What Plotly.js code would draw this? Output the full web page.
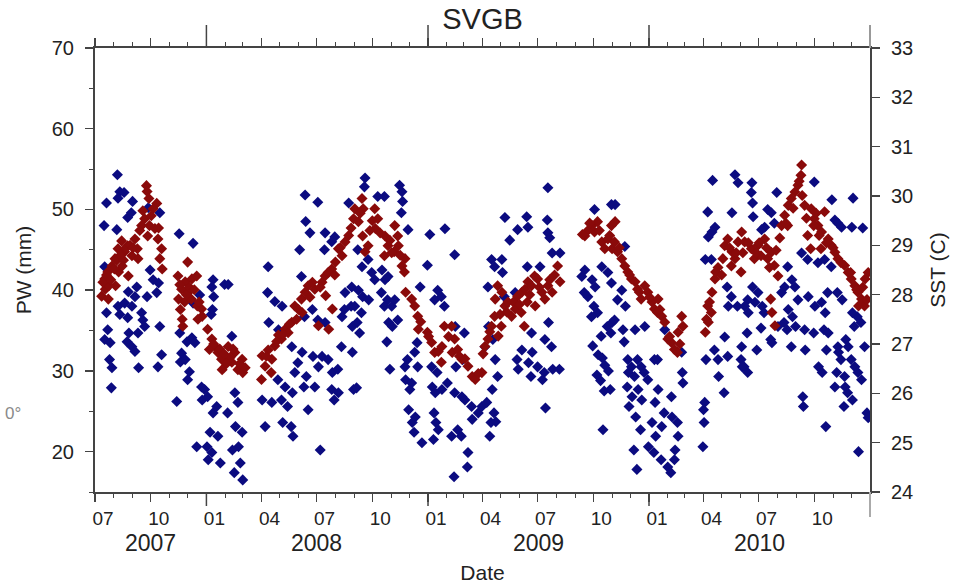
<!DOCTYPE html>
<html><head><meta charset="utf-8">
<script src="https://cdn.plot.ly/plotly-3.0.1.min.js"></script>
<style>html,body{margin:0;padding:0;background:#fff}#chart{width:961px;height:584px}</style>
</head><body><div id="chart"></div>
<script>
// PW (mm), left axis, blue diamonds
const pwDates = [
'2007-08-07','2007-08-11','2007-08-08','2007-08-18','2007-07-20','2007-09-01','2007-07-16','2007-08-06','2007-08-24','2007-08-30',
'2007-10-16','2007-09-27','2007-11-17','2007-12-10','2007-07-17','2007-07-20','2007-07-22','2007-07-17','2007-07-26','2007-07-25',
'2007-07-29','2007-07-28','2007-08-08','2007-08-19','2007-08-31','2007-08-11','2007-08-24','2007-09-08','2007-08-25','2007-09-05',
'2007-09-16','2007-09-18','2007-09-21','2007-09-10','2007-08-26','2007-08-23','2007-08-31','2007-09-05','2007-09-11','2007-10-13',
'2007-10-19','2007-09-30','2007-10-05','2007-10-14','2007-10-11','2007-09-25','2007-10-16','2007-11-13','2007-11-18','2007-11-30',
'2007-11-21','2007-11-19','2007-11-27','2007-12-01','2007-12-04','2007-12-08','2007-12-13','2007-12-10','2007-12-21','2008-01-12',
'2008-01-10','2008-01-13','2008-01-11','2008-01-09','2008-01-31','2007-12-24','2007-12-29','2007-12-25','2008-01-03','2008-01-12',
'2008-01-18','2008-01-07','2008-01-20','2007-12-16','2008-01-02','2008-01-04','2008-01-24','2008-01-10','2008-06-12','2008-07-03',
'2008-08-23','2008-06-13','2008-06-20','2008-07-15','2008-07-31','2008-07-26','2008-06-03','2008-07-14','2008-04-12','2008-02-06',
'2008-06-06','2008-04-11','2008-04-23','2008-05-05','2008-04-13','2008-04-29','2008-06-24','2008-06-11','2008-07-03','2008-07-15',
'2008-08-17','2008-08-28','2008-08-16','2008-08-12','2008-08-29','2008-02-12','2008-05-21','2008-06-07','2008-05-31','2008-05-26',
'2008-06-14','2008-06-25','2008-07-10','2008-07-20','2008-07-04','2008-07-27','2008-08-05','2008-08-11','2008-04-28','2008-05-10',
'2008-05-22','2008-05-04','2008-05-14','2008-04-18','2008-04-02','2008-06-10','2008-06-28','2008-06-17','2008-07-26','2008-08-06',
'2008-07-30','2008-05-20','2008-04-07','2008-05-06','2008-05-23','2008-07-07','2008-02-17','2008-02-22','2008-02-05','2008-02-18',
'2008-02-29','2008-02-23','2008-02-13','2008-02-26','2008-02-16','2008-03-01','2008-08-31','2008-08-29','2008-08-27','2008-09-19',
'2008-09-18','2008-11-15','2008-11-19','2008-11-20','2008-10-10','2008-10-21','2008-11-29','2009-01-04','2009-01-29','2009-02-14',
'2008-12-31','2008-11-18','2008-09-07','2008-09-24','2008-09-14','2008-09-30','2008-10-17','2008-10-22','2008-10-27','2008-10-05',
'2008-09-08','2008-09-15','2008-09-25','2008-09-02','2008-10-16','2008-10-26','2008-10-21','2008-11-02','2008-11-07','2008-09-13',
'2008-09-06','2008-09-10','2008-10-28','2008-11-03','2008-11-12','2008-10-25','2008-10-30','2008-09-05','2008-12-19','2009-01-17',
'2009-01-23','2009-01-12','2009-01-28','2008-12-14','2008-12-10','2008-11-28','2008-11-24','2008-12-15','2008-11-25','2008-12-05',
'2008-12-02','2009-01-07','2009-01-16','2009-01-08','2009-01-13','2009-01-24','2009-02-02','2009-02-14','2009-02-26','2008-11-30',
'2008-12-11','2008-12-06','2009-01-11','2009-01-14','2009-01-18','2008-12-09','2008-12-22','2009-01-10','2009-02-09','2009-02-25',
'2009-03-08','2009-03-07','2009-02-13','2009-02-19','2009-03-15','2009-03-25','2009-03-31','2009-03-14','2009-03-03','2009-02-15',
'2009-03-02','2009-02-27','2009-02-16','2009-07-18','2009-05-08','2009-06-13','2009-06-15','2009-05-29','2009-05-16','2009-07-17',
'2009-07-18','2009-07-21','2009-04-16','2009-05-03','2009-04-21','2009-05-04','2009-06-14','2009-07-05','2009-07-25','2009-08-07',
'2009-04-10','2009-05-07','2009-05-25','2009-07-19','2009-06-21','2009-07-13','2009-07-24','2009-06-05','2009-06-22','2009-05-28',
'2009-06-16','2009-07-01','2009-07-12','2009-07-26','2009-08-06','2009-05-30','2009-06-20','2009-07-09','2009-07-14','2009-04-22',
'2009-04-26','2009-04-17','2009-04-08','2009-04-20','2009-04-15','2009-04-23','2009-04-13','2009-04-11','2009-04-18','2009-04-05',
'2009-10-03','2009-10-31','2009-09-17','2009-09-12','2009-09-29','2009-09-16','2009-09-22','2009-10-04','2009-10-15','2009-10-25',
'2009-10-31','2009-10-02','2009-09-28','2009-10-08','2009-10-14','2009-10-24','2009-10-30','2009-11-01','2009-09-30','2009-10-09',
'2009-10-16','2009-10-20','2009-10-26','2009-10-07','2009-10-13','2009-10-19','2009-10-17','2009-10-29','2009-11-06','2009-11-22',
'2009-11-17','2009-11-10','2009-11-23','2009-11-05','2009-11-19','2009-11-21','2009-12-09','2009-12-25','2009-11-27','2009-12-03',
'2009-12-13','2009-12-19','2009-11-28','2009-12-08','2009-12-24','2009-12-30','2010-01-10','2010-01-15','2009-11-26','2009-12-14',
'2009-12-04','2009-12-20','2010-01-16','2010-01-11','2010-02-07','2010-01-27','2010-02-24','2009-11-29','2009-12-10','2009-12-18',
'2010-01-06','2010-01-12','2010-01-22','2010-01-26','2010-02-08','2010-02-17','2010-02-18','2009-12-31','2010-01-09','2010-01-21',
'2010-02-01','2010-02-12','2010-02-13','2009-12-07','2009-12-12','2010-02-25','2010-02-26','2010-02-06','2010-04-16','2010-04-08',
'2010-04-20','2010-04-15','2010-04-09','2010-05-18','2010-05-23','2010-05-28','2010-04-04','2010-04-14','2010-05-06','2010-04-19',
'2010-04-25','2010-04-26','2010-05-05','2010-05-11','2010-04-05','2010-04-03','2010-04-01','2010-04-02','2010-03-31','2010-05-10',
'2010-05-17','2010-05-12','2010-05-27','2010-06-03','2010-06-02','2010-06-04','2010-06-20','2010-06-19','2010-06-21','2010-06-22',
'2010-07-31','2010-10-01','2010-10-30','2010-12-04','2010-07-16','2010-07-22','2010-07-27','2010-07-11','2010-07-06','2010-12-02',
'2010-12-20','2010-11-04','2010-11-09','2010-11-15','2010-09-10','2010-09-20','2010-10-07','2010-10-18','2010-10-29','2010-08-18',
'2010-08-25','2010-08-13','2010-08-08','2010-08-30','2010-09-04','2010-09-21','2010-10-02','2010-10-13','2010-10-19','2010-10-23',
'2010-11-08','2010-11-16','2010-06-21','2010-06-30','2010-06-13','2010-06-25','2010-07-07','2010-07-10','2010-06-14','2010-06-08',
'2010-08-19','2010-08-26','2010-08-31','2010-08-17','2010-08-02','2010-08-12','2010-09-15','2010-09-30','2010-10-17','2010-10-24',
'2010-06-12','2010-07-05','2010-07-21','2010-07-23','2010-08-24','2010-09-16','2010-06-28','2010-10-21','2010-10-08','2010-10-14',
'2010-11-10','2010-11-14','2010-11-07','2010-11-04','2010-11-20','2010-12-01','2010-12-07','2010-12-12','2010-12-18','2010-11-21',
'2010-11-25','2010-12-03','2010-11-19','2010-06-07','2010-06-13','2010-11-22','2010-11-09','2010-11-26','2010-12-06','2010-12-23',
'2010-12-17','2010-12-11','2010-12-03','2010-09-12','2010-09-13','2010-10-20','2010-12-13','2010-12-27','2010-12-29'
];
const pwValues = [
54.3,52.2,51.4,52.1,50.8,51.0,48.0,47.5,49.0,49.6,
49.6,50.2,47.0,45.8,42.9,37.2,35.1,33.9,33.5,31.4,
30.4,27.9,38.0,38.4,38.0,37.0,36.6,40.4,39.8,39.2,
37.2,36.3,35.5,34.7,34.7,33.6,33.0,32.4,30.4,30.5,
32.0,42.5,41.3,40.9,39.7,39.2,35.5,26.2,34.7,33.6,
32.2,31.1,31.4,28.9,29.9,34.1,33.5,38.4,39.4,41.3,
40.4,39.2,37.6,37.0,40.7,28.0,27.7,26.4,26.8,24.8,
25.6,22.4,21.9,20.6,20.6,19.0,18.6,19.9,51.8,50.9,
50.8,48.5,47.1,47.1,46.6,46.0,45.0,45.0,42.9,40.7,
41.7,39.7,38.6,38.0,36.0,35.1,37.6,36.7,36.3,36.0,
39.7,40.4,37.6,36.7,35.5,34.3,33.0,32.3,31.0,29.8,
29.3,31.8,31.8,31.4,30.5,29.8,30.2,33.0,28.9,28.0,
27.3,26.4,25.6,26.1,26.4,28.0,28.0,25.2,27.7,27.3,
26.4,23.1,23.1,23.6,21.9,20.2,27.3,26.1,24.8,23.1,
22.4,20.6,20.2,18.6,17.4,16.5,27.7,32.3,38.0,53.9,
52.8,53.0,52.2,51.0,51.6,51.6,47.5,46.9,47.6,44.4,
43.1,49.6,45.0,43.8,42.9,42.2,42.5,41.3,41.7,41.3,
40.0,39.2,38.8,38.0,39.7,38.8,38.0,38.0,38.8,37.2,
36.0,34.7,36.0,35.5,36.3,33.6,30.2,27.9,40.4,40.0,
39.2,38.8,38.0,33.5,32.3,31.4,30.5,30.5,28.9,28.5,
27.7,30.5,29.8,28.0,27.3,27.7,28.5,27.3,26.8,25.2,
24.3,23.6,24.8,23.6,22.7,22.4,21.1,21.5,21.9,21.9,
19.9,18.1,16.9,22.7,24.0,24.8,25.6,25.6,26.4,35.5,
34.7,31.4,30.5,52.7,49.0,49.1,47.8,47.5,46.2,48.7,
47.1,46.5,43.8,43.8,42.9,42.2,42.9,42.9,44.6,44.6,
40.4,39.2,39.7,36.0,34.7,33.9,33.0,32.6,32.3,31.4,
31.0,30.5,29.8,30.2,30.2,30.2,29.3,28.9,25.4,31.4,
29.3,27.7,26.1,24.8,23.6,23.7,21.9,35.5,33.9,33.0,
50.0,50.6,42.5,41.7,41.3,39.7,39.2,40.4,42.9,42.2,
40.9,38.0,36.7,37.2,34.3,35.5,34.7,36.0,33.1,32.0,
31.6,30.7,30.0,29.5,28.8,27.5,22.7,27.7,50.6,45.4,
40.0,38.8,38.0,36.3,35.1,33.6,35.1,35.5,31.4,30.5,
31.4,30.5,29.8,29.3,29.8,28.9,31.4,31.4,28.0,27.7,
26.8,26.4,27.7,26.1,26.8,35.1,32.3,25.6,24.3,22.7,
23.6,21.9,23.1,24.8,24.3,23.6,21.9,20.6,19.9,19.0,
18.1,19.0,20.2,20.2,17.8,29.8,28.5,17.4,53.6,49.7,
47.8,47.2,46.6,49.6,54.3,53.3,43.8,43.8,34.2,32.6,
31.4,29.3,27.3,31.8,31.4,26.1,25.2,23.6,20.6,40.4,
39.2,38.0,38.0,33.0,31.4,30.5,53.3,52.1,50.8,49.1,
52.1,53.4,51.2,51.4,50.0,49.6,48.3,47.8,47.5,47.8,
47.7,48.7,48.3,47.8,44.6,43.8,43.4,43.8,42.9,42.9,
41.3,40.4,39.7,40.4,38.8,39.2,38.0,38.5,37.2,39.7,
39.7,38.8,40.4,39.7,38.8,38.5,38.0,37.2,37.2,38.0,
37.6,36.7,35.5,35.1,35.5,36.0,35.1,34.7,35.1,34.7,
34.7,35.3,33.9,33.5,33.0,32.6,32.6,32.6,30.5,29.8,
32.3,31.4,29.8,28.0,29.3,31.4,30.5,29.8,28.9,28.0,
27.3,26.4,25.6,30.5,29.8,33.9,33.0,33.0,35.5,33.0,
36.0,36.7,37.2,26.8,25.6,23.1,20.0,24.8,24.2
];
// SST (C), right axis, dark red diamonds
const sstDates = [
'2007-09-24','2007-09-25','2007-10-11','2007-10-05','2007-09-21','2007-09-16','2007-09-29','2007-10-08','2007-09-26','2007-10-13',
'2007-10-19','2007-10-16','2007-10-20','2007-09-05','2007-08-24','2007-08-14','2007-08-08','2007-08-19','2007-08-31','2007-09-10',
'2007-08-03','2007-07-29','2007-08-15','2007-07-22','2007-08-09','2007-07-17','2007-08-04','2007-07-18','2007-07-12','2007-07-23',
'2007-09-09','2007-08-25','2007-07-24','2007-08-02','2007-12-01','2007-11-15','2007-11-27','2007-12-08','2007-12-16','2007-11-21',
'2007-12-02','2007-11-16','2007-11-26','2007-12-07','2007-12-17','2007-12-24','2007-12-25','2007-11-22','2007-11-23','2007-12-18',
'2008-01-03','2008-01-10','2008-01-15','2008-01-20','2008-01-26','2008-01-27','2008-01-06','2008-02-06','2008-02-17','2008-02-29',
'2008-02-22','2008-03-01','2008-02-12','2008-01-23','2008-02-09','2008-03-05','2008-04-01','2008-04-07','2008-04-02','2008-04-18',
'2008-04-23','2008-05-04','2008-05-10','2008-05-21','2008-05-15','2008-05-29','2008-06-06','2008-06-12','2008-06-17','2008-06-28',
'2008-07-10','2008-07-15','2008-07-16','2008-07-26','2008-08-01','2008-08-12','2008-08-06','2008-08-17','2008-08-23','2008-08-31',
'2008-05-26','2008-07-04','2008-07-21','2008-07-27','2008-06-07','2008-04-17','2008-04-12','2008-04-29','2008-09-14','2008-09-16',
'2008-09-02','2008-09-08','2008-09-15','2008-09-24','2008-09-19','2008-10-05','2008-10-10','2008-10-06','2008-10-22','2008-10-27',
'2008-11-07','2008-11-12','2008-11-13','2008-10-21','2008-11-06','2008-11-24','2008-11-23','2008-11-19','2008-11-25','2008-12-05',
'2008-12-10','2008-12-15','2008-12-16','2008-12-31','2009-01-07','2009-01-12','2009-01-23','2009-01-28','2009-02-09','2009-02-14',
'2009-02-10','2009-02-19','2009-02-26','2009-03-08','2009-03-15','2009-03-20','2009-03-31','2009-01-24','2009-04-05','2009-04-10',
'2009-04-16','2009-04-21','2009-04-22','2009-04-26','2009-05-03','2009-05-08','2009-05-02','2009-04-27','2009-05-13','2009-05-19',
'2009-05-25','2009-05-29','2009-06-05','2009-06-10','2009-06-15','2009-06-21','2009-06-26','2009-07-01','2009-07-08','2009-07-13',
'2009-06-27','2009-06-14','2009-07-18','2009-07-25','2009-08-03','2009-08-07','2009-06-04','2009-06-09','2009-04-02','2009-09-17',
'2009-09-29','2009-10-08','2009-10-03','2009-10-15','2009-10-25','2009-10-31','2009-11-01','2009-10-20','2009-09-22','2009-09-13',
'2009-11-06','2009-11-05','2009-11-10','2009-11-17','2009-11-22','2009-11-27','2009-12-03','2009-12-09','2009-12-13','2009-12-19',
'2009-12-25','2009-12-30','2010-01-06','2010-01-10','2010-01-15','2010-01-22','2010-01-27','2010-01-16','2010-02-01','2010-02-07',
'2010-02-12','2010-02-17','2010-02-18','2010-02-24','2010-02-26','2010-04-04','2010-04-06','2010-04-08','2010-04-15','2010-04-20',
'2010-04-21','2010-04-09','2010-04-14','2010-05-03','2010-05-06','2010-05-11','2010-05-18','2010-05-17','2010-05-23','2010-06-03',
'2010-06-02','2010-05-28','2010-09-10','2010-09-09','2010-09-04','2010-08-30','2010-08-24','2010-08-19','2010-08-13','2010-08-08',
'2010-08-18','2010-09-11','2010-09-15','2010-09-26','2010-10-01','2010-10-07','2010-10-13','2010-10-18','2010-10-24','2010-10-29',
'2010-11-04','2010-11-09','2010-11-20','2010-11-26','2010-12-01','2010-12-07','2010-12-12','2010-12-18','2010-12-23','2010-12-13',
'2010-12-24','2010-12-29','2010-06-08','2010-06-19','2010-06-30','2010-07-11','2010-07-22','2010-07-27','2010-08-02','2010-07-16',
'2010-06-24','2010-07-05','2010-07-21','2010-07-23','2010-07-28','2010-09-20','2010-09-25','2010-10-12',
'2007-07-14','2007-07-20','2007-07-27','2007-08-06','2007-08-12','2007-08-17','2007-08-21','2007-08-28','2007-09-02','2007-09-13',
'2007-09-18','2007-09-28','2007-10-02','2007-10-14','2007-11-18','2007-11-29','2007-12-04','2007-12-12','2007-12-20','2007-11-19',
'2008-01-13','2008-01-30','2008-02-03','2008-02-14','2008-02-25','2008-04-09','2008-04-26','2008-05-07','2008-05-17','2008-06-01',
'2008-06-20','2008-06-24','2008-07-07','2008-07-20','2008-07-31','2008-08-09','2008-08-27','2008-09-11','2008-09-27','2008-10-01',
'2008-10-14','2008-10-30','2008-11-02','2008-11-16','2008-12-20','2009-01-02','2009-01-18','2009-02-04','2009-02-22','2009-03-03',
'2009-03-25','2009-04-13','2009-04-30','2009-05-11','2009-05-22','2009-06-01','2009-06-18','2009-07-04','2009-07-21','2009-07-29',
'2009-09-25','2009-10-11','2009-10-28','2009-11-13','2009-11-30','2009-12-16','2010-01-02','2010-01-19','2010-02-04','2010-02-21',
'2010-04-11','2010-04-25','2010-05-01','2010-05-14','2010-05-25','2010-06-05','2010-06-14','2010-06-27','2010-07-02','2010-07-14',
'2010-07-19','2010-07-30','2010-08-05','2010-08-15','2010-08-27','2010-09-06','2010-09-18','2010-09-30','2010-10-04','2010-10-09',
'2010-10-21','2010-11-01','2010-11-14','2010-11-30','2010-12-10','2010-12-20','2010-12-27'
];
const sstValues = [
30.21,30.09,29.85,29.74,29.54,29.40,29.40,29.34,29.19,29.13,
28.93,28.73,28.52,29.13,28.99,29.09,28.93,28.87,28.79,28.73,
28.73,28.58,28.58,28.46,28.46,28.32,28.18,28.11,27.97,27.91,
28.93,28.38,28.18,28.52,28.66,28.38,28.26,28.32,28.38,28.11,
28.05,27.91,27.85,27.91,27.77,27.71,27.56,27.50,27.36,27.50,
27.30,27.10,26.95,26.83,26.69,26.48,26.89,26.95,26.83,26.69,
26.48,26.42,26.63,26.90,26.72,26.52,26.28,26.55,26.76,26.69,
26.96,27.10,27.30,27.44,27.23,27.50,27.91,28.05,28.18,28.11,
28.25,28.38,27.98,28.52,28.66,28.79,28.93,29.07,29.20,29.54,
27.77,27.37,27.30,27.71,27.64,26.42,26.88,27.18,29.95,29.74,
29.74,29.48,29.19,28.99,28.87,29.74,29.54,29.34,29.19,28.99,
29.40,29.19,28.99,28.79,28.87,28.73,28.46,28.58,28.05,27.91,
27.77,27.56,27.30,27.24,27.03,26.83,26.63,27.36,27.36,27.10,
26.83,26.89,26.69,26.55,26.34,26.28,26.42,26.95,26.95,27.10,
27.36,27.56,27.91,28.18,28.05,27.77,27.36,27.16,27.85,27.56,
27.71,27.97,28.05,28.11,28.26,28.18,28.38,28.32,28.05,27.91,
27.77,27.85,28.18,28.05,28.58,28.26,27.64,27.36,26.80,29.19,
29.40,29.48,29.27,29.07,29.13,29.40,28.93,28.93,29.30,29.22,
29.48,29.07,28.87,28.73,28.58,28.46,28.32,28.26,28.11,27.91,
28.18,28.05,27.85,27.71,27.64,27.56,27.44,27.91,27.10,27.03,
26.89,26.83,27.24,27.56,27.36,27.24,27.50,27.77,28.05,28.32,
28.46,27.44,27.64,28.73,28.99,29.13,28.87,28.58,28.73,29.27,
28.46,29.07,30.63,30.42,30.22,30.08,29.95,29.81,29.61,29.40,
29.40,30.01,29.81,29.74,29.54,29.40,29.27,29.68,29.13,29.00,
28.86,28.73,28.59,28.45,28.32,28.18,28.05,27.91,27.77,27.77,
28.32,28.45,29.07,28.93,29.00,29.13,28.86,28.59,28.38,28.73,
28.73,28.79,27.91,27.64,27.37,29.20,28.93,28.93,
28.25,28.40,28.30,28.70,28.80,28.70,28.95,29.00,28.95,29.30,
29.70,29.95,29.60,29.35,28.20,28.00,28.15,28.10,27.85,27.70,
27.00,26.80,26.60,26.90,26.60,26.75,27.05,27.20,27.40,27.70,
27.95,28.25,28.15,28.45,28.40,28.95,29.35,29.65,29.30,29.50,
29.25,29.10,28.85,28.80,27.45,27.15,26.85,27.15,26.75,26.70,
26.40,27.25,27.60,27.65,27.85,27.80,28.00,28.15,28.30,28.40,
29.45,29.30,29.20,28.95,28.40,28.05,27.95,27.70,27.15,27.00,
27.85,28.55,28.40,28.95,28.85,28.85,29.05,28.85,29.05,28.95,
28.55,28.90,29.15,29.45,29.75,30.30,29.55,29.40,29.65,29.20,
29.05,28.95,28.65,28.45,28.10,28.15,27.90
];
const monthTickDates = ['2007-07-01','2007-10-01','2008-01-01','2008-04-01','2008-07-01','2008-10-01','2009-01-01','2009-04-01','2009-07-01','2009-10-01','2010-01-01','2010-04-01','2010-07-01','2010-10-01'];
const monthTickLabels = ['07','10','01','04','07','10','01','04','07','10','01','04','07','10'];
const yearLabels = ['2007','2008','2009','2010'];
const yearLabelDates = ['2007-09-30','2008-07-01','2009-07-02','2010-07-02'];
const yearBoundaries = ['2008-01-01','2009-01-01','2010-01-01'];
const pwTicks = [20,30,40,50,60,70];
const sstTicks = [24,25,26,27,28,29,30,31,32,33];

const axisColor = '#444';
const txt = '#222';
const plotH = 444;

const traces = [
  {type:'scatter', mode:'markers', x: pwDates, y: pwValues, xaxis:'x', yaxis:'y', name:'PW',
   marker:{symbol:'diamond', size:8.5, color:'#0b0b80', line:{width:0}}, cliponaxis:true},
  {type:'scatter', mode:'markers', x: sstDates, y: sstValues, xaxis:'x', yaxis:'y2', name:'SST',
   marker:{symbol:'diamond', size:8.5, color:'#8a0a0a', line:{width:0}}, cliponaxis:true}
];

const shapes = [];
yearBoundaries.forEach(d => {
  shapes.push({type:'line', xref:'x', yref:'paper', x0:d, x1:d, y0:1, y1:1+23/plotH, line:{color:axisColor, width:1.5}});
  shapes.push({type:'line', xref:'x', yref:'paper', x0:d, x1:d, y0:0, y1:-14/plotH, line:{color:axisColor, width:1.5}});
});
shapes.push({type:'line', xref:'paper', yref:'paper', x0:1, x1:1, y0:1, y1:1+23/plotH, line:{color:'#999', width:2}});
shapes.push({type:'line', xref:'paper', yref:'paper', x0:1, x1:1, y0:0, y1:-25/plotH, line:{color:'#aaa', width:2}});

const annotations = yearLabels.map((t,i) => ({
  text:t, xref:'x', yref:'paper', x:yearLabelDates[i], y:-51/plotH, showarrow:false,
  xanchor:'center', yanchor:'middle', font:{size:23, color:txt}
}));
annotations.push({text:'0°', xref:'paper', yref:'paper', x:-92/775, y:79/plotH, showarrow:false,
  xanchor:'left', yanchor:'middle', font:{size:17, color:'#8a8a8a'}});

const layout = {
  width:961, height:584,
  margin:{l:95, r:91, t:48, b:92, pad:0},
  paper_bgcolor:'#ffffff', plot_bgcolor:'#ffffff',
  font:{family:'Liberation Sans, Arial, sans-serif', color:txt, size:20},
  showlegend:false,
  title:{text:'SVGB', font:{size:29, color:txt}, x:0.5, xref:'paper', xanchor:'center', y:1-19/584, yref:'container', yanchor:'middle'},
  xaxis:{type:'date', range:['2007-07-01','2011-01-01'], tickmode:'array', tickvals:monthTickDates, ticktext:monthTickLabels,
    ticks:'outside', ticklen:8, tickwidth:1.5, tickcolor:axisColor, showline:true, linecolor:axisColor, linewidth:2,
    mirror:'ticks', showgrid:false, zeroline:false, ticklabelshift:8, ticklabelstandoff:0, tickfont:{size:19, color:txt},
    minor:{dtick:'M1', tick0:'2007-07-01', ticks:'outside', ticklen:4, tickwidth:1, tickcolor:axisColor, showgrid:false},
    title:{text:'Date', font:{size:21, color:txt}, standoff:40}},
  yaxis:{range:[15,70], tickmode:'array', tickvals:pwTicks, ticks:'outside', ticklen:8, tickwidth:1.5, tickcolor:axisColor,
    showline:true, linecolor:axisColor, linewidth:2, showgrid:false, zeroline:false, ticklabelstandoff:7,
    tickfont:{size:20, color:txt},
    minor:{dtick:5, tick0:0, ticks:'outside', ticklen:4, tickwidth:1, tickcolor:axisColor, showgrid:false},
    title:{text:'PW (mm)', font:{size:21, color:txt}, standoff:14}},
  yaxis2:{overlaying:'y', side:'right', range:[24,33], tickmode:'array', tickvals:sstTicks, ticks:'outside', ticklen:8,
    tickwidth:1.5, tickcolor:axisColor, showline:true, linecolor:axisColor, linewidth:2, showgrid:false, zeroline:false,
    ticklabelstandoff:7, tickfont:{size:20, color:txt},
    title:{text:'SST (C)', font:{size:21, color:txt}, standoff:18}},
  shapes:shapes,
  annotations:annotations
};

Plotly.newPlot('chart', traces, layout, {staticPlot:true, displayModeBar:false});
</script>
</body></html>
